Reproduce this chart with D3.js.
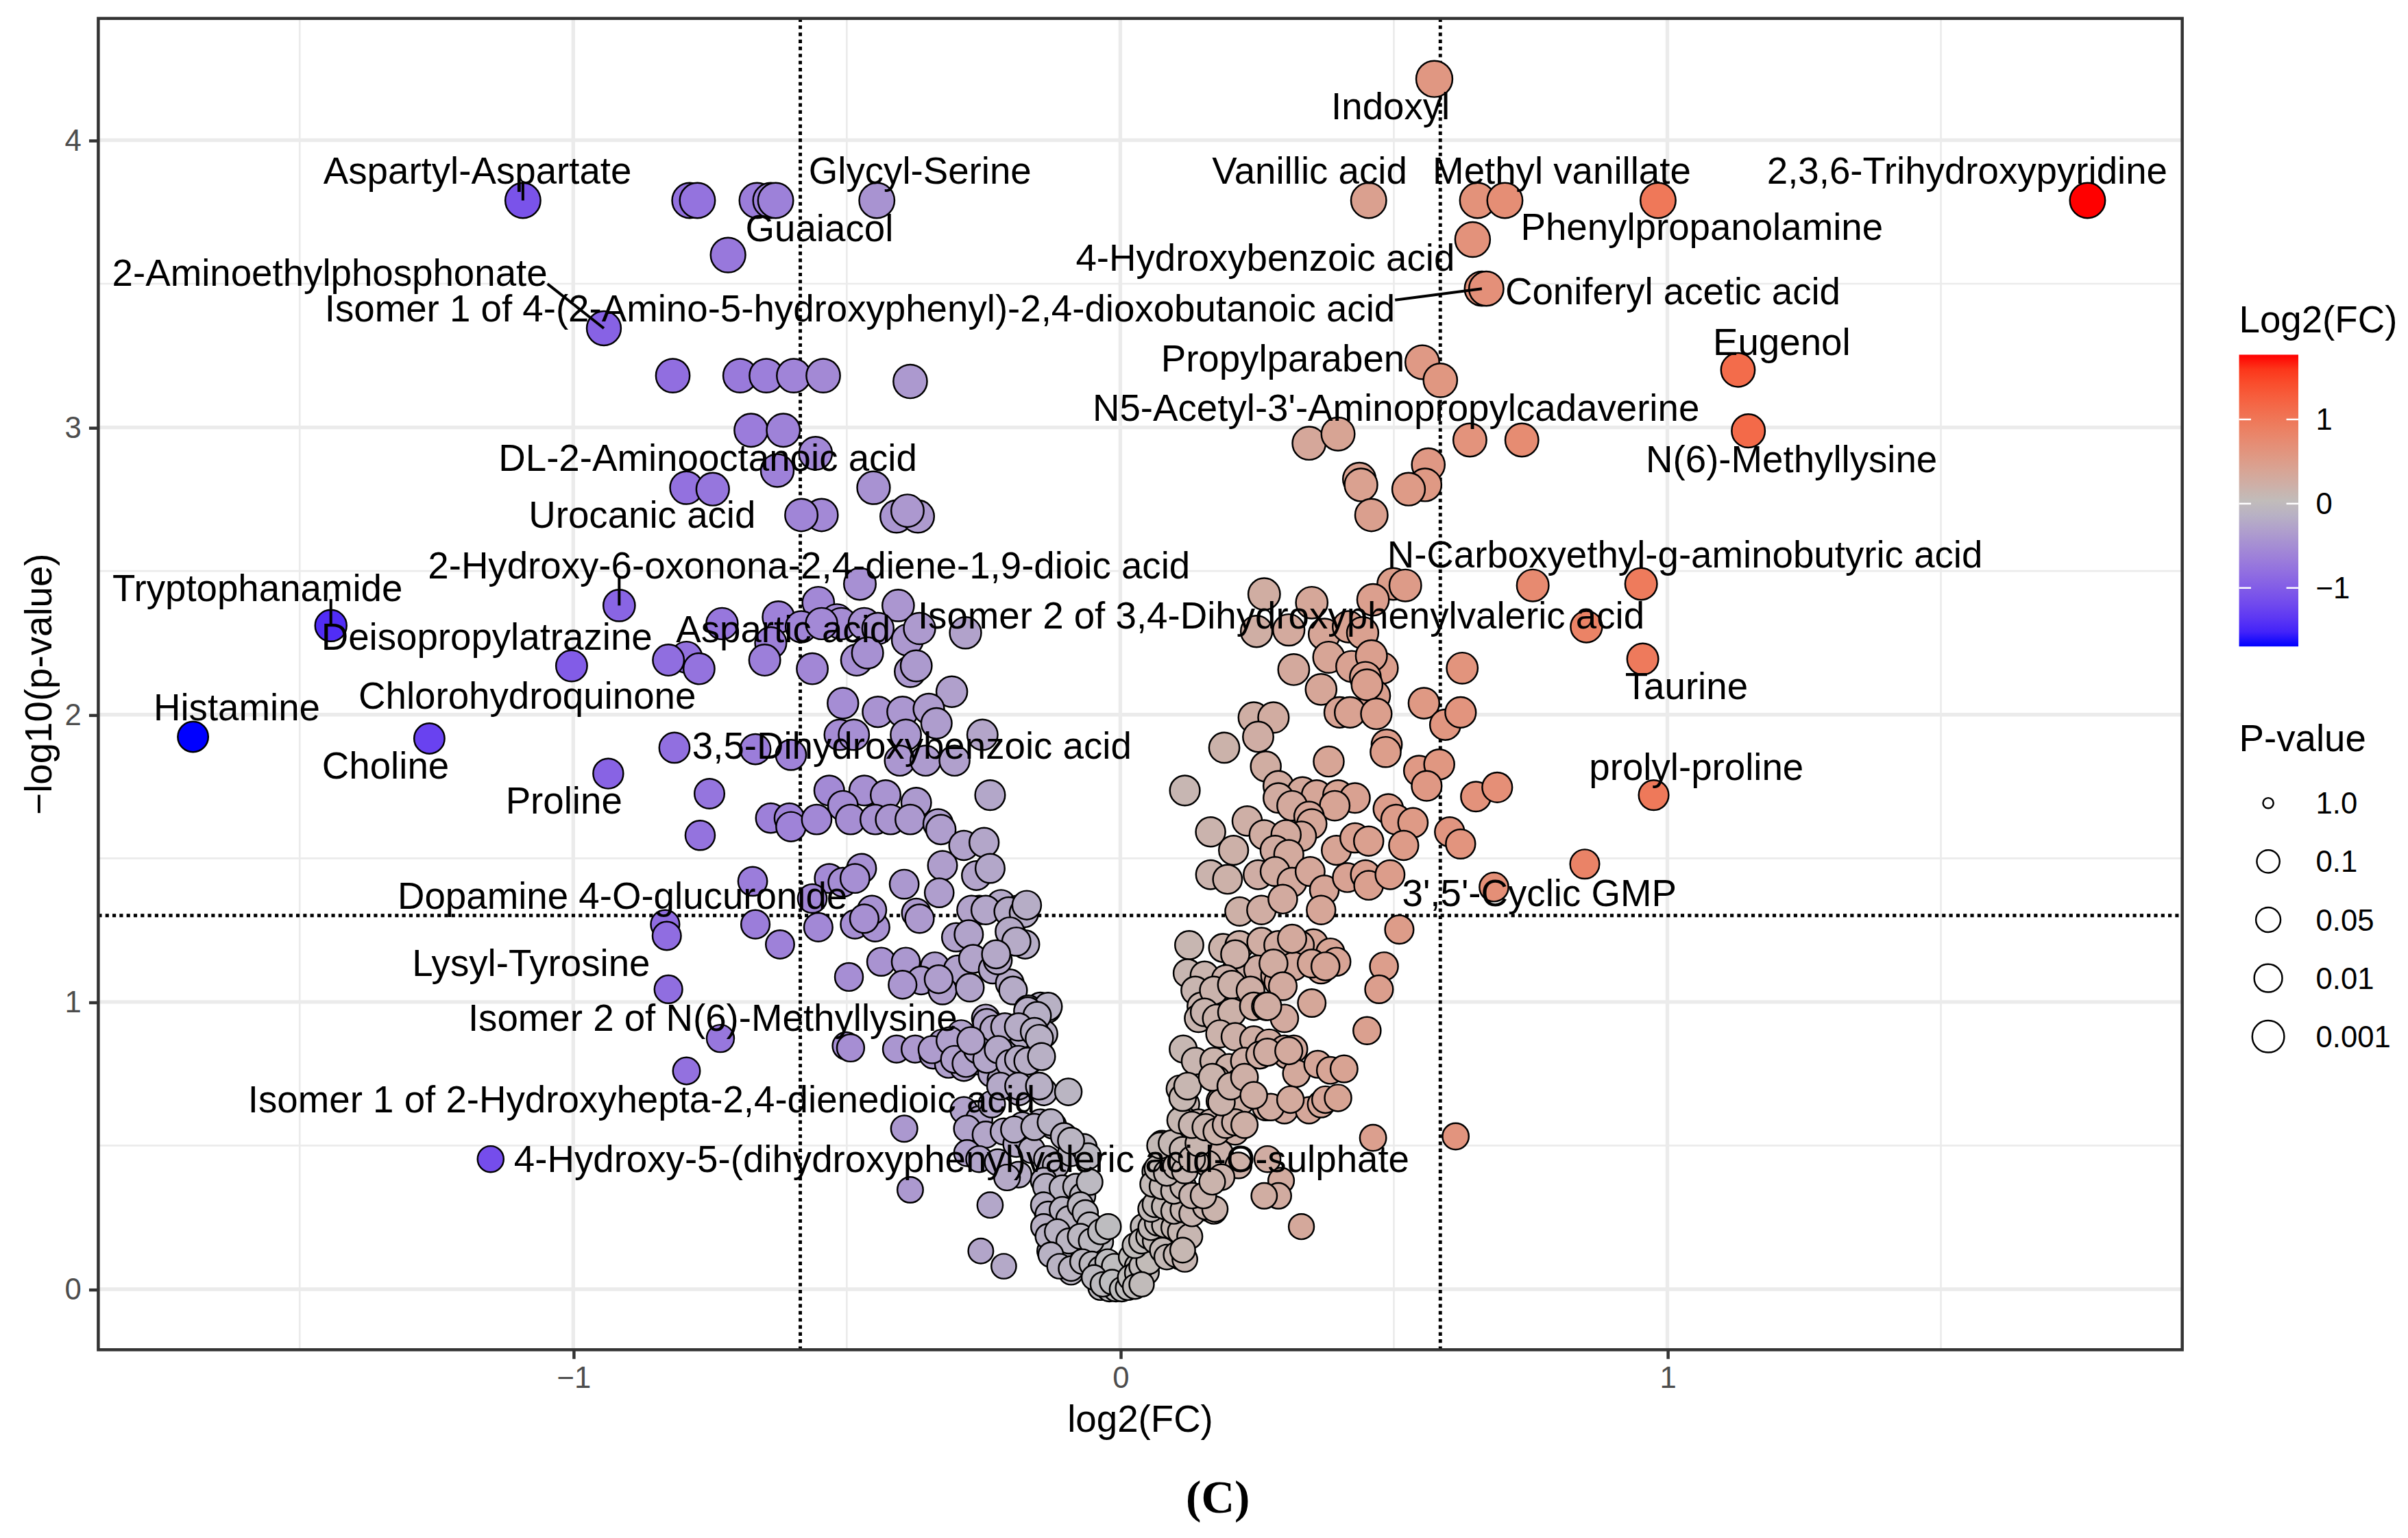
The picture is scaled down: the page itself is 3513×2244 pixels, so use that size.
<!DOCTYPE html>
<html>
<head>
<meta charset="utf-8">
<script src="https://cdn.jsdelivr.net/npm/d3@7"></script>
<style>
body { margin: 0; background: #fff; }
svg { display: block; }
</style>
</head>
<body>
<div id="chart"></div>
<script>
"use strict"

// labelled metabolites: log2(FC), -log10(p) and where the repelled label ended up
let labelNames = ["Indoxyl", "Aspartyl-Aspartate", "Glycyl-Serine", "Guaiacol", "Vanillic acid",
    "Methyl vanillate", "2,3,6-Trihydroxypyridine", "Phenylpropanolamine", "4-Hydroxybenzoic acid",
    "2-Aminoethylphosphonate", "Isomer 1 of 4-(2-Amino-5-hydroxyphenyl)-2,4-dioxobutanoic acid",
    "Coniferyl acetic acid", "Propylparaben", "Eugenol", "N5-Acetyl-3'-Aminopropylcadaverine",
    "DL-2-Aminooctanoic acid", "N(6)-Methyllysine", "Urocanic acid",
    "2-Hydroxy-6-oxonona-2,4-diene-1,9-dioic acid", "N-Carboxyethyl-g-aminobutyric acid",
    "Tryptophanamide", "Isomer 2 of 3,4-Dihydroxyphenylvaleric acid", "Aspartic acid",
    "Deisopropylatrazine", "Taurine", "Chlorohydroquinone", "Histamine", "3,5-Dihydroxybenzoic acid",
    "Choline", "prolyl-proline", "Proline", "3',5'-Cyclic GMP", "Dopamine 4-O-glucuronide",
    "Lysyl-Tyrosine", "Isomer 2 of N(6)-Methyllysine", "Isomer 1 of 2-Hydroxyhepta-2,4-dienedioic acid",
    "4-Hydroxy-5-(dihydroxyphenyl)valeric acid-O-sulphate"];
let labelFC = [0.574, -1.092, -0.445, -0.630, 0.454, 0.703, 1.768, 0.983, 0.644, -0.944, 0.661, 0.669,
    0.552, 1.129, 0.585, -0.557, 1.148, -0.583, -0.916, 0.952, -1.443, 0.852, -0.546, -1.003, 0.955,
    -0.826, -1.695, -0.815, -1.263, 0.975, -0.936, 0.683, -0.672, -0.826, -0.731, -0.793, -1.151];
let labelNL = [4.213, 3.79, 3.79, 3.79, 3.79, 3.79, 3.79, 3.79, 3.654, 3.345, 3.483, 3.483, 3.227, 3.20,
    3.164, 2.91, 2.988, 2.695, 2.38, 2.455, 2.31, 2.306, 2.317, 2.17, 2.194, 2.19, 1.923, 1.885, 1.917,
    1.72, 1.795, 1.40, 1.42, 1.044, 0.873, 0.76, 0.453];
let labelTextFC = [0.494, -1.175, -0.366, -0.550, 0.346, 0.807, 1.548, 1.063, 0.265, -1.445, -0.476,
    1.010, 0.297, 1.209, 0.504, -0.754, 1.227, -0.874, -0.569, 1.032, -1.577, 0.294, -0.616, -1.158,
    1.035, -1.084, -1.615, -0.381, -1.343, 1.053, -1.017, 0.766, -0.910, -1.077, -0.745, -0.875, -0.290];
let labelTextNL = [4.117, 3.893, 3.893, 3.691, 3.893, 3.893, 3.893, 3.696, 3.590, 3.536, 3.414, 3.473,
    3.238, 3.297, 3.068, 2.892, 2.887, 2.695, 2.519, 2.557, 2.439, 2.343, 2.296, 2.269, 2.098, 2.066,
    2.024, 1.891, 1.821, 1.816, 1.699, 1.379, 1.369, 1.134, 0.943, 0.660, 0.453];
let segmentNames = ["Aspartyl-Aspartate", "2-Aminoethylphosphonate",
    "Isomer 1 of 4-(2-Amino-5-hydroxyphenyl)-2,4-dioxobutanoic acid", "Tryptophanamide",
    "2-Hydroxy-6-oxonona-2,4-diene-1,9-dioic acid"];

// unlabelled metabolites, [log2(FC), -log10(p)]
let decreased = [
    [-0.787, 3.79], [-0.773, 3.79], [-0.664, 3.79], [-0.639, 3.79], [-0.717, 3.60],
    [-0.818, 3.18], [-0.695, 3.18], [-0.647, 3.18], [-0.597, 3.18], [-0.543, 3.18], [-0.384, 3.16],
    [-0.675, 2.99], [-0.616, 2.99], [-0.627, 2.85], [-0.793, 2.79], [-0.745, 2.785], [-0.451, 2.79],
    [-0.546, 2.695], [-0.409, 2.69], [-0.370, 2.69], [-0.389, 2.71], [-0.476, 2.455],
    [-0.552, 2.39], [-0.406, 2.38], [-0.728, 2.317], [-0.625, 2.34], [-0.583, 2.306], [-0.518, 2.33],
    [-0.510, 2.317], [-0.468, 2.317], [-0.443, 2.30], [-0.389, 2.26], [-0.283, 2.285], [-0.367, 2.30],
    [-0.639, 2.25], [-0.793, 2.20], [-0.770, 2.16], [-0.650, 2.19], [-0.563, 2.16], [-0.482, 2.19],
    [-0.462, 2.215], [-0.384, 2.15], [-0.373, 2.17], [-0.308, 2.08], [-0.507, 2.04], [-0.443, 2.01],
    [-0.398, 2.01], [-0.350, 2.02], [-0.336, 1.97], [-0.252, 1.93], [-0.667, 1.88], [-0.602, 1.86],
    [-0.513, 1.93], [-0.487, 1.93], [-0.392, 1.93], [-0.403, 1.84], [-0.356, 1.84], [-0.303, 1.84],
    [-0.751, 1.725], [-0.532, 1.736], [-0.468, 1.736], [-0.429, 1.72], [-0.373, 1.694], [-0.238, 1.72],
    [-0.507, 1.683], [-0.639, 1.64], [-0.605, 1.64], [-0.602, 1.61], [-0.555, 1.635], [-0.493, 1.635],
    [-0.448, 1.635], [-0.420, 1.635], [-0.384, 1.635], [-0.333, 1.62], [-0.328, 1.60], [-0.768, 1.58],
    [-0.286, 1.545], [-0.249, 1.555], [-0.532, 1.43], [-0.507, 1.417], [-0.473, 1.465], [-0.485, 1.43],
    [-0.395, 1.41], [-0.325, 1.475], [-0.331, 1.38], [-0.263, 1.44], [-0.238, 1.465],
    [-0.832, 1.27], [-0.829, 1.23], [-0.667, 1.27], [-0.622, 1.20], [-0.552, 1.26], [-0.485, 1.27],
    [-0.448, 1.26], [-0.454, 1.32], [-0.563, 1.36], [-0.373, 1.31], [-0.367, 1.29], [-0.258, 1.32],
    [-0.218, 1.34], [-0.188, 1.32], [-0.199, 1.235], [-0.272, 1.32], [-0.246, 1.32], [-0.204, 1.315],
    [-0.176, 1.31], [-0.300, 1.225], [-0.277, 1.235], [-0.202, 1.245], [-0.174, 1.20],
    [-0.496, 1.087], [-0.437, 1.14], [-0.392, 1.14], [-0.339, 1.124], [-0.297, 1.113], [-0.269, 1.15],
    [-0.233, 1.113], [-0.202, 1.065], [-0.468, 1.29], [-0.171, 1.337], [-0.190, 1.21], [-0.224, 1.145],
    [-0.364, 1.075], [-0.325, 1.04], [-0.275, 1.05], [-0.398, 1.06], [-0.196, 1.04], [-0.146, 0.985],
    [-0.134, 0.975], [-0.168, 0.975], [-0.501, 0.847], [-0.493, 0.84],
    [-0.409, 0.836], [-0.375, 0.836], [-0.342, 0.815], [-0.325, 0.857], [-0.303, 0.815], [-0.314, 0.783],
    [-0.286, 0.772], [-0.258, 0.794], [-0.246, 0.857], [-0.224, 0.836], [-0.213, 0.868], [-0.190, 0.857],
    [-0.179, 0.889], [-0.168, 0.794], [-0.146, 0.815], [-0.140, 0.889], [-0.246, 0.943], [-0.230, 0.90],
    [-0.291, 0.889], [-0.269, 0.836], [-0.235, 0.751], [-0.218, 0.73], [-0.202, 0.708], [-0.185, 0.687],
    [-0.140, 0.687], [-0.095, 0.687], [-0.286, 0.623], [-0.258, 0.591], [-0.235, 0.644],
    [-0.280, 0.559], [-0.246, 0.538], [-0.213, 0.549], [-0.179, 0.57], [-0.146, 0.58], [-0.123, 0.57],
    [-0.395, 0.559], [-0.280, 0.474], [-0.258, 0.453], [-0.224, 0.442], [-0.190, 0.506], [-0.162, 0.485],
    [-0.134, 0.453], [-0.118, 0.431], [-0.090, 0.474], [-0.067, 0.495], [-0.059, 0.463],
    [-0.384, 0.346], [-0.238, 0.293], [-0.140, 0.378], [-0.123, 0.325], [-0.134, 0.272], [-0.101, 0.325],
    [-0.090, 0.282], [-0.112, 0.24], [-0.078, 0.24], [-0.059, 0.218], [-0.048, 0.197], [-0.078, 0.186],
    [-0.036, 0.165], [-0.129, 0.133], [-0.101, 0.101], [-0.090, 0.059], [-0.067, 0.112], [-0.048, 0.08],
    [-0.031, 0.048], [-0.014, 0.027], [-0.020, 0.09], [-0.255, 0.133], [-0.213, 0.08],
    [-0.036, 0.005], [-0.020, 0.0], [-0.008, 0.0], [-0.003, 0.027], [-0.025, 0.048], [-0.048, 0.059],
    [-0.227, 1.166], [-0.332, 1.079], [-0.132, 0.984], [-0.169, 0.968], [-0.152, 0.952], [-0.244, 0.928],
    [-0.231, 0.905], [-0.211, 0.913], [-0.186, 0.913], [-0.157, 0.897], [-0.148, 0.873], [-0.344, 0.834],
    [-0.311, 0.865], [-0.303, 0.80], [-0.282, 0.786], [-0.261, 0.834], [-0.244, 0.80], [-0.223, 0.834],
    [-0.202, 0.786], [-0.186, 0.80], [-0.169, 0.794], [-0.144, 0.81], [-0.273, 0.865], [-0.219, 0.707],
    [-0.186, 0.707], [-0.148, 0.707],
    [-0.194, 0.556], [-0.157, 0.565], [-0.127, 0.581], [-0.103, 0.533], [-0.090, 0.517], [-0.186, 0.399],
    [-0.207, 0.389], [-0.136, 0.357], [-0.106, 0.352], [-0.081, 0.357], [-0.069, 0.325], [-0.056, 0.373],
    [-0.140, 0.293], [-0.132, 0.261], [-0.106, 0.277], [-0.094, 0.245], [-0.073, 0.293], [-0.064, 0.266],
    [-0.056, 0.224], [-0.140, 0.218], [-0.132, 0.184], [-0.115, 0.20], [-0.094, 0.168], [-0.073, 0.184],
    [-0.053, 0.168], [-0.036, 0.20], [-0.022, 0.218], [-0.127, 0.12], [-0.111, 0.08], [-0.090, 0.072],
    [-0.069, 0.096], [-0.052, 0.088], [-0.036, 0.072], [-0.023, 0.096], [-0.011, 0.08], [-0.048, 0.041],
    [-0.032, 0.017], [-0.015, 0.025]
];

let increased = [
    [0.653, 3.79], [0.345, 2.945], [0.398, 2.977], [0.639, 2.956], [0.734, 2.956],
    [0.563, 2.87], [0.557, 2.80], [0.527, 2.785], [0.437, 2.82], [0.44, 2.80], [0.459, 2.695],
    [0.263, 2.42], [0.350, 2.39], [0.499, 2.455], [0.521, 2.45], [0.462, 2.40], [0.754, 2.45],
    [0.249, 2.29], [0.308, 2.295], [0.373, 2.28], [0.417, 2.306], [0.443, 2.285],
    [0.317, 2.157], [0.381, 2.20], [0.423, 2.168], [0.479, 2.162], [0.459, 2.205], [0.625, 2.162],
    [0.367, 2.088], [0.448, 2.13], [0.465, 2.066], [0.401, 2.008], [0.420, 2.008], [0.451, 2.104],
    [0.468, 2.003], [0.555, 2.04], [0.594, 1.965], [0.622, 2.008],
    [0.244, 1.99], [0.280, 1.99], [0.252, 1.923], [0.190, 1.885], [0.487, 1.896], [0.485, 1.87],
    [0.266, 1.82], [0.381, 1.837], [0.546, 1.805], [0.583, 1.827], [0.560, 1.752], [0.118, 1.736],
    [0.289, 1.752], [0.333, 1.731], [0.359, 1.72], [0.398, 1.72], [0.429, 1.71], [0.289, 1.71],
    [0.314, 1.683], [0.392, 1.683], [0.650, 1.715], [0.689, 1.747], [0.345, 1.646], [0.350, 1.62],
    [0.331, 1.577], [0.490, 1.672], [0.504, 1.635], [0.535, 1.624], [0.232, 1.63], [0.263, 1.582],
    [0.303, 1.582], [0.602, 1.592], [0.622, 1.55], [0.165, 1.592], [0.395, 1.528], [0.429, 1.571],
    [0.454, 1.56], [0.518, 1.545], [0.207, 1.528], [0.283, 1.528], [0.308, 1.513], [0.849, 1.48],
    [0.165, 1.443], [0.196, 1.427], [0.252, 1.443], [0.283, 1.454], [0.314, 1.417], [0.347, 1.454],
    [0.373, 1.39], [0.415, 1.433], [0.448, 1.443], [0.454, 1.406], [0.493, 1.443],
    [0.218, 1.315], [0.258, 1.32], [0.297, 1.358], [0.367, 1.32], [0.510, 1.252],
    [0.126, 1.198], [0.188, 1.188], [0.218, 1.198], [0.258, 1.209], [0.289, 1.198], [0.353, 1.204],
    [0.384, 1.172], [0.123, 1.10], [0.154, 1.092], [0.213, 1.113], [0.252, 1.113], [0.283, 1.092],
    [0.367, 1.113], [0.395, 1.14], [0.482, 1.124], [0.473, 1.044], [0.137, 1.04], [0.148, 0.985],
    [0.143, 0.943], [0.210, 1.166], [0.328, 1.198], [0.193, 1.08], [0.289, 1.07], [0.317, 1.124],
    [0.350, 1.134], [0.171, 1.04], [0.204, 1.06], [0.238, 1.04], [0.350, 0.996],
    [0.154, 0.964], [0.176, 0.943], [0.204, 0.964], [0.244, 0.985], [0.266, 0.985], [0.300, 0.943],
    [0.115, 0.836], [0.137, 0.794], [0.182, 0.889], [0.210, 0.879], [0.244, 0.868], [0.272, 0.857],
    [0.300, 0.836], [0.317, 0.836], [0.305, 0.815], [0.171, 0.794], [0.199, 0.772], [0.227, 0.794],
    [0.255, 0.815], [0.176, 0.73], [0.216, 0.719], [0.322, 0.751], [0.361, 0.783], [0.384, 0.762],
    [0.109, 0.698], [0.120, 0.644], [0.182, 0.655], [0.221, 0.655], [0.266, 0.634], [0.300, 0.623],
    [0.345, 0.623], [0.367, 0.644], [0.115, 0.591], [0.143, 0.58], [0.165, 0.58], [0.188, 0.559],
    [0.210, 0.549], [0.076, 0.506], [0.092, 0.495], [0.109, 0.463], [0.132, 0.453], [0.182, 0.474],
    [0.216, 0.431], [0.294, 0.378], [0.289, 0.325], [0.331, 0.218],
    [0.064, 0.41], [0.070, 0.357], [0.076, 0.325], [0.087, 0.272], [0.104, 0.325], [0.120, 0.24],
    [0.160, 0.282], [0.171, 0.272], [0.042, 0.218], [0.053, 0.176], [0.070, 0.144], [0.076, 0.197],
    [0.092, 0.165], [0.109, 0.112], [0.115, 0.176], [0.020, 0.112], [0.031, 0.08], [0.048, 0.059],
    [0.025, 0.027], [0.008, 0.005], [0.053, 0.101], [0.003, 0.0], [0.014, 0.005],
    [0.314, 1.22], [0.375, 1.124], [0.280, 1.134], [0.297, 1.055], [0.269, 0.985], [0.451, 0.90],
    [0.269, 0.825], [0.308, 0.83], [0.409, 0.767], [0.275, 0.634], [0.311, 0.66], [0.375, 0.66],
    [0.398, 0.666], [0.462, 0.527], [0.613, 0.532], [0.269, 0.453],
    [0.018, 0.041], [0.031, 0.057], [0.039, 0.08], [0.052, 0.096], [0.027, 0.009], [0.039, 0.017],
    [0.027, 0.152], [0.039, 0.168], [0.052, 0.184], [0.064, 0.168], [0.077, 0.136], [0.085, 0.112],
    [0.102, 0.12], [0.118, 0.104], [0.056, 0.215], [0.068, 0.231], [0.081, 0.224], [0.098, 0.215],
    [0.110, 0.20], [0.127, 0.184], [0.114, 0.136], [0.056, 0.279], [0.064, 0.295], [0.081, 0.288],
    [0.098, 0.272], [0.115, 0.277], [0.131, 0.263], [0.156, 0.287], [0.173, 0.279], [0.060, 0.366],
    [0.077, 0.358], [0.098, 0.342], [0.115, 0.358], [0.131, 0.326], [0.152, 0.326], [0.068, 0.421],
    [0.085, 0.405], [0.102, 0.429], [0.118, 0.413], [0.139, 0.453], [0.160, 0.437], [0.073, 0.50],
    [0.094, 0.508], [0.114, 0.485], [0.131, 0.453], [0.143, 0.508], [0.110, 0.588], [0.131, 0.572],
    [0.156, 0.564], [0.176, 0.549], [0.193, 0.572], [0.210, 0.581], [0.227, 0.572], [0.114, 0.667],
    [0.123, 0.707], [0.185, 0.651], [0.168, 0.738], [0.202, 0.707], [0.227, 0.738], [0.244, 0.675],
    [0.185, 0.39], [0.168, 0.374], [0.263, 0.325]
];

let xTicks = [-1, 0, 1];
let yTicks = [0, 1, 2, 3, 4];
let colourTicks = [1, 0, -1];
let sizeBreaks = [1.0, 0.1, 0.05, 0.01, 0.001];
let sizeBreakLabels = ["1.0", "0.1", "0.05", "0.01", "0.001"];
let fcCutoffs = [-Math.log2(1.5), Math.log2(1.5)];
let pCutoff = 0.05;

let font = "'Liberation Sans', Arial, Helvetica, sans-serif";

// work in a 1568-wide design space, scaled up to the 3513 x 2244 window
let drawingWidth = 1568;
let drawingHeight = 1001.6;
let panelLeft = 64, panelRight = 1421, panelTop = 12, panelBottom = 879;

let labelled = labelNames.map((name, i) => ({
    name: name, fc: labelFC[i], nl: labelNL[i], tfc: labelTextFC[i], tnl: labelTextNL[i]
}));
let allPoints = decreased.concat(increased).map(d => ({fc: d[0], nl: d[1]}))
    .concat(labelled.map(d => ({fc: d.fc, nl: d.nl})));

// ggplot style 5% expansion around the data range
function expand(ext) {
    let pad = (ext[1] - ext[0]) * 0.05;
    return [ext[0] - pad, ext[1] + pad];
}
let fcExtent = d3.extent(allPoints, d => d.fc);
let nlExtent = d3.extent(allPoints, d => d.nl);

let x = d3.scaleLinear().domain(expand(fcExtent)).range([panelLeft, panelRight]);
let y = d3.scaleLinear().domain(expand(nlExtent)).range([panelBottom, panelTop]);
let colour = d3.scaleLinear()
    .domain([fcExtent[0], 0, fcExtent[1]])
    .range(["#0000ff", "#bebebe", "#ff0000"])
    .interpolate(d3.interpolateLab);
let radius = d3.scaleRadial().domain([0, 4.2]).range([8.0, 11.8]);
let legendRadius = d3.scaleSqrt().domain([0, 3]).range([3.4, 10.4]);

let drawing = d3.select("#chart")
    .append("svg")
    .attr("width", 3513)
    .attr("height", 2244)
    .attr("viewBox", "0 0 " + drawingWidth + " " + drawingHeight)
    .style("font-family", font);

drawing.append("rect")
    .attr("width", drawingWidth)
    .attr("height", drawingHeight)
    .attr("fill", "white");

// grid
let grid = drawing.append("g");
let xMinor = [-1.5, -0.5, 0.5, 1.5];
let yMinor = [0.5, 1.5, 2.5, 3.5];
grid.selectAll(".xminor").data(xMinor).enter().append("line")
    .attr("x1", d => x(d)).attr("x2", d => x(d))
    .attr("y1", panelTop).attr("y2", panelBottom)
    .attr("stroke", "#ebebeb").attr("stroke-width", 1.2);
grid.selectAll(".yminor").data(yMinor).enter().append("line")
    .attr("x1", panelLeft).attr("x2", panelRight)
    .attr("y1", d => y(d)).attr("y2", d => y(d))
    .attr("stroke", "#ebebeb").attr("stroke-width", 1.2);
grid.selectAll(".xmajor").data(xTicks).enter().append("line")
    .attr("x1", d => x(d)).attr("x2", d => x(d))
    .attr("y1", panelTop).attr("y2", panelBottom)
    .attr("stroke", "#ebebeb").attr("stroke-width", 2.4);
grid.selectAll(".ymajor").data(yTicks).enter().append("line")
    .attr("x1", panelLeft).attr("x2", panelRight)
    .attr("y1", d => y(d)).attr("y2", d => y(d))
    .attr("stroke", "#ebebeb").attr("stroke-width", 2.4);

// cut-off lines
let cutoffs = drawing.append("g")
    .attr("stroke", "black")
    .attr("stroke-width", 2.2)
    .attr("stroke-dasharray", "2.3 2.3");
cutoffs.selectAll(".vline").data(fcCutoffs).enter().append("line")
    .attr("x1", d => x(d)).attr("x2", d => x(d))
    .attr("y1", panelTop).attr("y2", panelBottom);
cutoffs.append("line")
    .attr("x1", panelLeft).attr("x2", panelRight)
    .attr("y1", y(-Math.log10(pCutoff))).attr("y2", y(-Math.log10(pCutoff)));

// points
drawing.append("g").selectAll("circle")
    .data(allPoints)
    .enter().append("circle")
    .attr("cx", d => x(d.fc))
    .attr("cy", d => y(d.nl))
    .attr("r", d => radius(d.nl))
    .attr("fill", d => colour(d.fc))
    .attr("stroke", "black")
    .attr("stroke-width", 1.1);

// labels
let labelGroup = drawing.append("g");
let labelTexts = labelGroup.selectAll("text")
    .data(labelled)
    .enter().append("text")
    .attr("x", d => x(d.tfc))
    .attr("y", d => y(d.tnl))
    .attr("text-anchor", "middle")
    .attr("dominant-baseline", "central")
    .attr("font-size", 24.4)
    .attr("fill", "black")
    .text(d => d.name);

labelTexts.each(function (d) {
    if (segmentNames.indexOf(d.name) < 0) return;
    let box = this.getBBox();
    let px = x(d.fc), py = y(d.nl);
    let sx = Math.max(box.x, Math.min(px, box.x + box.width));
    let sy = Math.max(box.y + box.height * 0.3, Math.min(py, box.y + box.height * 0.75));
    labelGroup.append("line")
        .attr("x1", sx).attr("y1", sy)
        .attr("x2", px).attr("y2", py)
        .attr("stroke", "black")
        .attr("stroke-width", 1.8);
});

// panel border
drawing.append("rect")
    .attr("x", panelLeft).attr("y", panelTop)
    .attr("width", panelRight - panelLeft)
    .attr("height", panelBottom - panelTop)
    .attr("fill", "none")
    .attr("stroke", "#333333")
    .attr("stroke-width", 2);

// axes
let xAxis = drawing.append("g")
    .attr("transform", "translate(0," + panelBottom + ")")
    .call(d3.axisBottom(x).tickValues(xTicks).tickSize(6).tickPadding(5).tickFormat(d3.format("d")));
let yAxis = drawing.append("g")
    .attr("transform", "translate(" + panelLeft + ",0)")
    .call(d3.axisLeft(y).tickValues(yTicks).tickSize(6).tickPadding(5).tickFormat(d3.format("d")));
[xAxis, yAxis].forEach(function (ax) {
    ax.select(".domain").remove();
    ax.selectAll(".tick line").attr("stroke", "#333333").attr("stroke-width", 2);
    ax.selectAll(".tick text")
        .attr("fill", "#4d4d4d")
        .attr("font-size", 19.5)
        .attr("font-family", font);
});

drawing.append("text")
    .attr("x", (panelLeft + panelRight) / 2)
    .attr("y", 924)
    .attr("text-anchor", "middle")
    .attr("dominant-baseline", "central")
    .attr("font-size", 24.4)
    .text("log2(FC)");

drawing.append("text")
    .attr("transform", "translate(25," + (panelTop + panelBottom) / 2 + ") rotate(-90)")
    .attr("text-anchor", "middle")
    .attr("dominant-baseline", "central")
    .attr("font-size", 24.4)
    .text("\u2212log10(p-value)");

// colour legend
let legendX = 1458;
drawing.append("text")
    .attr("x", legendX).attr("y", 208)
    .attr("dominant-baseline", "central")
    .attr("font-size", 24.4)
    .text("Log2(FC)");

let barTop = 231, barBottom = 421, barWidth = 38.6;
let barScale = d3.scaleLinear().domain([fcExtent[1], fcExtent[0]]).range([barTop, barBottom]);
let gradient = drawing.append("defs").append("linearGradient")
    .attr("id", "fcGradient")
    .attr("x1", 0).attr("x2", 0).attr("y1", 0).attr("y2", 1);
gradient.selectAll("stop")
    .data(d3.range(0, 1.0001, 0.05))
    .enter().append("stop")
    .attr("offset", d => d)
    .attr("stop-color", d => colour(barScale.invert(barTop + d * (barBottom - barTop))));
drawing.append("rect")
    .attr("x", legendX).attr("y", barTop)
    .attr("width", barWidth).attr("height", barBottom - barTop)
    .attr("fill", "url(#fcGradient)");
let barTicks = drawing.append("g").attr("stroke", "white").attr("stroke-width", 1.1);
barTicks.selectAll(".l").data(colourTicks).enter().append("line")
    .attr("x1", legendX).attr("x2", legendX + 7.8)
    .attr("y1", d => barScale(d)).attr("y2", d => barScale(d));
barTicks.selectAll(".r").data(colourTicks).enter().append("line")
    .attr("x1", legendX + barWidth - 7.8).attr("x2", legendX + barWidth)
    .attr("y1", d => barScale(d)).attr("y2", d => barScale(d));
drawing.append("g").selectAll("text")
    .data(colourTicks)
    .enter().append("text")
    .attr("x", 1508)
    .attr("y", d => barScale(d))
    .attr("dominant-baseline", "central")
    .attr("font-size", 19.5)
    .text(d => d3.format("d")(d));

// size legend
drawing.append("text")
    .attr("x", legendX).attr("y", 481)
    .attr("dominant-baseline", "central")
    .attr("font-size", 24.4)
    .text("P-value");
let keyY = d3.scalePoint().domain(sizeBreaks).range([523, 675]);
let keys = drawing.append("g").selectAll("g")
    .data(sizeBreaks)
    .enter().append("g");
keys.append("circle")
    .attr("cx", 1477)
    .attr("cy", d => keyY(d))
    .attr("r", d => legendRadius(-Math.log10(d)))
    .attr("fill", "white")
    .attr("stroke", "black")
    .attr("stroke-width", 1.1);
keys.append("text")
    .attr("x", 1508)
    .attr("y", d => keyY(d))
    .attr("dominant-baseline", "central")
    .attr("font-size", 19.5)
    .text((d, i) => sizeBreakLabels[i]);

// panel tag below the figure
drawing.append("text")
    .attr("x", 793)
    .attr("y", 975)
    .attr("text-anchor", "middle")
    .attr("dominant-baseline", "central")
    .attr("font-family", "'Liberation Serif', 'Times New Roman', serif")
    .attr("font-weight", "bold")
    .attr("font-size", 30)
    .text("(C)");
</script>
</body>
</html>
